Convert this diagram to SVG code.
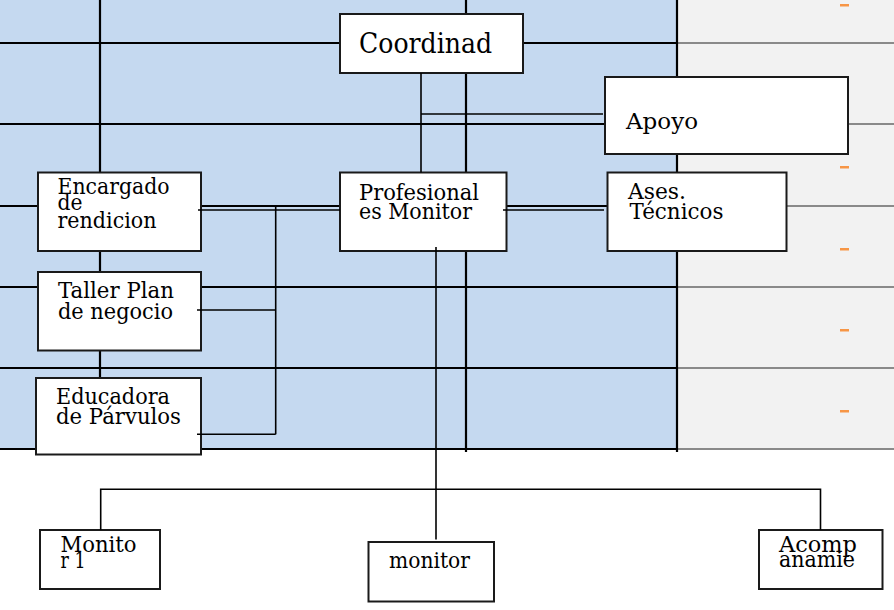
<svg xmlns="http://www.w3.org/2000/svg" width="894" height="610" viewBox="0 0 894 610">
<style>
.grid{stroke:#000;stroke-width:2.2;fill:none}
.gridg{stroke:#8a8a8a;stroke-width:2;fill:none}
.box{fill:#fff;stroke:#1a1a1a;stroke-width:2}
.con{stroke:#000;stroke-width:1.6;fill:none}
text{font-family:'DejaVu Serif','Liberation Serif',serif;font-size:23px;fill:#000}
.dash{fill:#f79646}
</style>
<rect x="0" y="0" width="894" height="610" fill="#fff"/>
<rect x="0" y="0" width="677" height="450" fill="#c5d9f0"/>
<rect x="677" y="0" width="217" height="450" fill="#f2f2f2"/>
<g id="grid">
<path class="gridg" d="M677 43H894M677 124H894M677 206H894M677 287H894M677 368H894M677 449H894"/>
<path class="grid" d="M0 43H677M0 124H677M0 206H677M0 287H677M0 368H677M0 449H677"/>
<path class="grid" d="M100 0V450M466 0V452M677 0V452"/>
</g>
<g id="marks">
<rect class="dash" x="840" y="4" width="9" height="2.5"/>
<rect class="dash" x="840" y="166" width="9" height="2.5"/>
<rect class="dash" x="840" y="248" width="9" height="2.5"/>
<rect class="dash" x="840" y="329" width="9" height="2.5"/>
<rect class="dash" x="840" y="410" width="9" height="2.5"/>
</g>
<g id="coordinad">
<rect class="box" x="340" y="14" width="183" height="59"/>
<text x="359" y="52.5" style="font-size:28px" textLength="133" lengthAdjust="spacingAndGlyphs">Coordinad</text>
</g>
<g id="apoyo">
<rect class="box" x="605" y="77" width="243" height="77"/>
<text x="626" y="129" textLength="72" lengthAdjust="spacingAndGlyphs">Apoyo</text>
</g>
<g id="encargado">
<rect class="box" x="38" y="172.5" width="163" height="78.5"/>
<text x="57.5" y="194" textLength="112" lengthAdjust="spacingAndGlyphs">Encargado</text>
<text x="57.5" y="210" textLength="25" lengthAdjust="spacingAndGlyphs">de</text>
<text x="57.5" y="228" textLength="99" lengthAdjust="spacingAndGlyphs">rendicion</text>
</g>
<g id="profesional">
<rect class="box" x="340" y="172.5" width="166.5" height="78.5"/>
<text x="359" y="199.5" textLength="120" lengthAdjust="spacingAndGlyphs">Profesional</text>
<text x="359" y="218.5" textLength="113" lengthAdjust="spacingAndGlyphs">es Monitor</text>
</g>
<g id="ases">
<rect class="box" x="607.5" y="172.5" width="179" height="78.5"/>
<text x="628" y="199" textLength="58" lengthAdjust="spacingAndGlyphs">Ases.</text>
<text x="629.5" y="219" textLength="94" lengthAdjust="spacingAndGlyphs">Técnicos</text>
</g>
<g id="taller">
<rect class="box" x="38" y="272" width="163" height="78.5"/>
<text x="58" y="297.5" textLength="116" lengthAdjust="spacingAndGlyphs">Taller Plan</text>
<text x="58" y="318.5" textLength="115" lengthAdjust="spacingAndGlyphs">de negocio</text>
</g>
<g id="educadora">
<rect class="box" x="36" y="378" width="165" height="76.5"/>
<text x="56" y="404" textLength="114" lengthAdjust="spacingAndGlyphs">Educadora</text>
<text x="56" y="424" textLength="125" lengthAdjust="spacingAndGlyphs">de Párvulos</text>
</g>
<g id="monitor1">
<rect class="box" x="40" y="530" width="120" height="59"/>
<text x="60.5" y="552" textLength="76" lengthAdjust="spacingAndGlyphs">Monito</text>
<text x="60.5" y="567.5" textLength="25" lengthAdjust="spacingAndGlyphs">r 1</text>
</g>
<g id="monitor">
<rect class="box" x="368.5" y="542" width="125.5" height="59.5"/>
<text x="389" y="568.3" textLength="81" lengthAdjust="spacingAndGlyphs">monitor</text>
</g>
<g id="acompanamie">
<rect class="box" x="759" y="530" width="123.5" height="59"/>
<text x="779" y="552" textLength="78" lengthAdjust="spacingAndGlyphs">Acomp</text>
<text x="779" y="566.5" textLength="76" lengthAdjust="spacingAndGlyphs">anamie</text>
</g>
<g id="connectors">
<path class="con" d="M421 73V172.5"/>
<path class="con" d="M421 114H603"/>
<path class="con" d="M198 210H340"/>
<path class="con" d="M503 210H604"/>
<path class="con" d="M275.7 206V434.3"/>
<path class="con" d="M197 310H275.7"/>
<path class="con" d="M197 434.3H275.7"/>
<path class="con" d="M436 247V539.5"/>
<path class="con" d="M100.7 530V489.3H820.5V530"/>
</g>
</svg>
